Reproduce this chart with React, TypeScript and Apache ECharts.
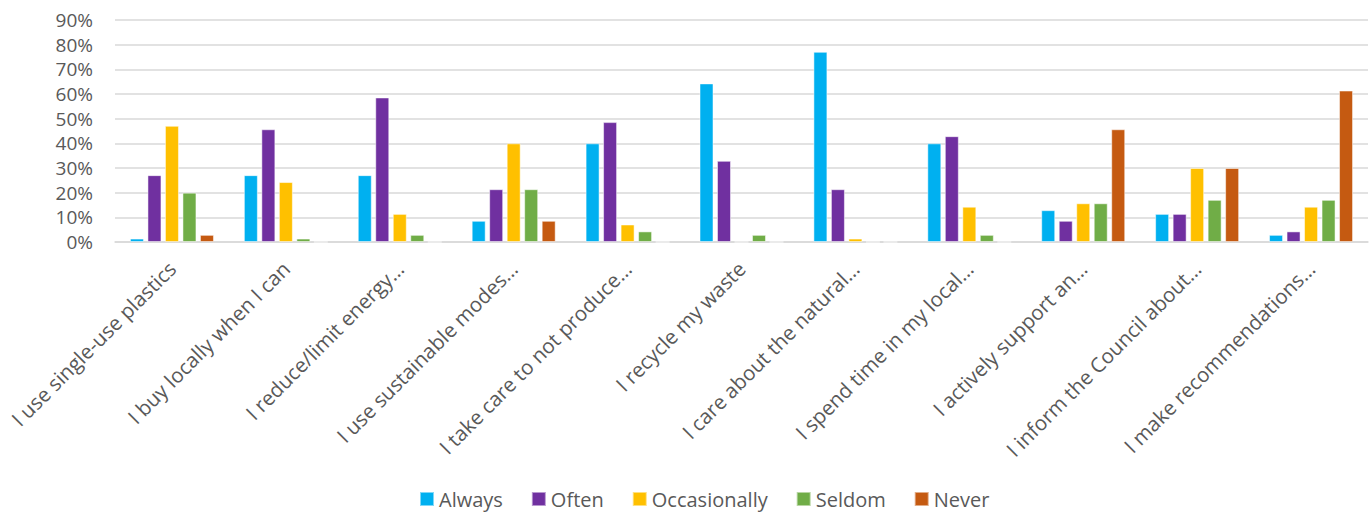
import React, { useEffect, useRef } from "react";
import * as echarts from "echarts";

const categories = [
  "I use single-use plastics",
  "I buy locally when I can",
  "I reduce/limit energy…",
  "I use sustainable modes…",
  "I take care to not produce…",
  "I recycle my waste",
  "I care about the natural…",
  "I spend time in my local…",
  "I actively support an…",
  "I inform the Council about…",
  "I make recommendations…",
];

const always = [1.4, 27.1, 27.1, 8.6, 40.0, 64.3, 77.1, 40.0, 12.9, 11.4, 2.9];
const often = [27.1, 45.7, 58.6, 21.4, 48.6, 32.9, 21.4, 42.9, 8.6, 11.4, 4.3];
const occasionally = [47.1, 24.3, 11.4, 40.0, 7.1, 0, 1.4, 14.3, 15.7, 30.0, 14.3];
const seldom = [20.0, 1.4, 2.9, 21.4, 4.3, 2.9, 0, 2.9, 15.7, 17.1, 17.1];
const never = [2.9, 0, 0, 8.6, 0, 0, 0, 0, 45.7, 30.0, 61.4];

const seriesNames = ["Always", "Often", "Occasionally", "Seldom", "Never"];
const seriesData = [always, often, occasionally, seldom, never];
const colors = ["#00B0F0", "#7030A0", "#FFC000", "#70AD47", "#C55A11"];

const yTicks = { min: 0, max: 90, interval: 10 };

export default function App() {
  const ref = useRef<HTMLDivElement>(null);
  useEffect(() => {
    if (!ref.current) return;
    const chart = echarts.init(ref.current, null, { renderer: "svg" });
    const font = "'Open Sans', 'Liberation Sans', sans-serif";
    chart.setOption({
      animation: false,
      backgroundColor: "#ffffff",
      textStyle: { fontFamily: font },
      grid: { left: 115, right: 2, top: 20, bottom: 273, containLabel: false },
      legend: {
        bottom: 1,
        left: 414,
        icon: "rect",
        itemWidth: 14,
        itemHeight: 14,
        itemGap: 28,
        textStyle: { color: "#595959", fontSize: 20, fontFamily: font },
        data: seriesNames,
      },
      xAxis: {
        type: "category",
        data: categories,
        axisLine: { show: true, lineStyle: { color: "#D9D9D9", width: 1.5 } },
        axisTick: { show: false },
        axisLabel: {
          rotate: 45,
          interval: 0,
          margin: 23,
          color: "#595959",
          fontSize: 20.5,
          fontFamily: font,
        },
      },
      yAxis: {
        type: "value",
        min: yTicks.min,
        max: yTicks.max,
        interval: yTicks.interval,
        axisLine: { show: false },
        axisTick: { show: false },
        splitLine: { lineStyle: { color: "#D9D9D9", width: 1.5 } },
        axisLabel: {
          formatter: "{value}%",
          margin: 22,
          color: "#595959",
          fontSize: 19,
          fontFamily: font,
        },
      },
      series: seriesNames.map((name, i) => ({
        name,
        type: "bar",
        data: seriesData[i],
        barWidth: 14,
        barGap: "25%",
        itemStyle: { color: colors[i], borderColor: "rgba(255,255,255,0.5)", borderWidth: 1 },
      })),
    });
    return () => chart.dispose();
  }, []);
  return (
    <div
      ref={ref}
      style={{ position: "fixed", left: 0, top: 0, width: 1370, height: 515 }}
    />
  );
}
